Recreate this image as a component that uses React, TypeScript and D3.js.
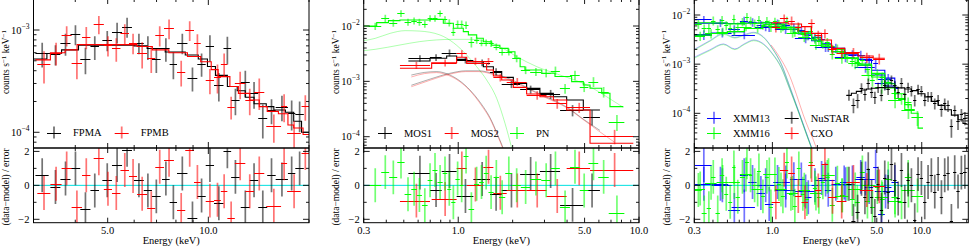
import React from "react";
import * as d3 from "d3";

type Bin = [number, number, number, number]; // lo, hi, value, error
type XY = [number, number];

// ---------------- Panel 1 : NuSTAR FPMA / FPMB ----------------
const p1XTicks = [5, 10];
const p1YExps = [-3, -4];

const fpmaData: Bin[] = [
  [3.04, 3.33, 5.9e-4, 1.6e-4], [3.37, 3.61, 5.8e-4, 1.3e-4], [3.61, 3.87, 7.4e-4, 1.8e-4],
  [3.87, 4.14, 9.1e-4, 2.0e-4], [4.14, 4.44, 5.2e-4, 1.5e-4], [4.44, 4.71, 6.9e-4, 1.8e-4],
  [4.82, 5.15, 8.0e-4, 1.8e-4], [5.15, 5.52, 9.6e-4, 2.2e-4], [5.52, 5.91, 1.08e-3, 2.4e-4],
  [5.99, 6.41, 7.5e-4, 1.7e-4], [6.41, 6.78, 6.9e-4, 1.8e-4], [6.78, 7.2, 5.2e-4, 1.4e-4],
  [7.27, 7.66, 6.6e-4, 1.7e-4], [7.66, 8.06, 4.7e-4, 1.4e-4], [8.06, 8.66, 7.5e-4, 1.7e-4],
  [8.66, 9.27, 3.4e-4, 0.9e-4], [9.27, 9.82, 4.7e-4, 1.2e-4], [9.82, 10.4, 6.9e-4, 2.0e-4],
  [10.4, 11.1, 2.9e-4, 0.9e-4], [11.1, 11.7, 6.6e-4, 2.0e-4], [11.7, 12.4, 2.07e-4, 0.6e-4],
  [12.5, 13.3, 3.1e-4, 0.9e-4], [13.3, 14.1, 2.4e-4, 0.7e-4], [14.1, 15.0, 1.37e-4, 0.5e-4],
  [15.0, 15.9, 1.65e-4, 0.45e-4], [15.9, 17.3, 1.78e-4, 0.5e-4], [17.3, 18.2, 1.54e-4, 0.5e-4],
  [18.2, 19.3, 1.5e-4, 0.5e-4],
];
const fpmaRes = [0.6, -0.1, 0.4, 1.0, -1.4, -0.3, 0.3, 1.2, 2.1, 0.3, -0.3, -0.65, 0.4, -1.0, 0.7, -1.95, -0.6, 1.2, -1.05, 2.0, 0.5, -1.3, 0.3, -1.3, 0.6, 0.35, 0.7, 1.0];
const fpmaModelE = [3.0, 3.29, 3.64, 4.09, 5.99, 6.56, 7.43, 8.53, 9.33, 9.94, 10.5, 11.4, 12.2, 12.9, 13.7, 14.9, 15.7, 17.0, 18.0, 19.0, 20.0];
const fpmaModelV = [5.2e-4, 5.9e-4, 6.4e-4, 7.1e-4, 7.0e-4, 6.6e-4, 6.1e-4, 5.7e-4, 5.2e-4, 4.4e-4, 3.6e-4, 2.8e-4, 2.55e-4, 2.2e-4, 1.9e-4, 1.78e-4, 1.65e-4, 1.57e-4, 1.28e-4, 1.0e-4];

const fpmbData: Bin[] = [
  [3.08, 3.37, 4.6e-4, 1.6e-4], [3.37, 3.64, 6.0e-4, 1.5e-4], [3.64, 3.9, 8.9e-4, 2.0e-4],
  [3.9, 4.19, 4.8e-4, 1.5e-4], [4.19, 4.44, 8.6e-4, 2.1e-4], [4.54, 4.87, 1.14e-3, 2.3e-4],
  [4.87, 5.15, 7.1e-4, 1.6e-4], [5.15, 5.46, 6.6e-4, 1.7e-4], [5.46, 5.79, 9.3e-4, 2.1e-4],
  [5.79, 6.12, 7.5e-4, 1.7e-4], [6.12, 6.56, 5.9e-4, 1.7e-4], [6.56, 6.94, 5.3e-4, 1.5e-4],
  [6.94, 7.37, 8.9e-4, 2.0e-4], [7.37, 7.89, 1.04e-3, 2.3e-4], [8.06, 8.53, 3.9e-4, 1.1e-4],
  [8.53, 9.06, 1.0e-3, 2.2e-4], [9.06, 9.49, 7.4e-4, 1.7e-4], [9.82, 10.4, 3.25e-4, 0.9e-4],
  [10.4, 10.9, 3.5e-4, 1.1e-4], [10.9, 11.4, 4.7e-4, 1.2e-4], [11.4, 12.0, 1.78e-4, 0.45e-4],
  [12.0, 12.9, 3.0e-4, 0.9e-4], [12.9, 13.7, 2.07e-4, 0.6e-4], [13.7, 14.7, 2.5e-4, 0.85e-4],
  [14.9, 16.5, 1.14e-4, 0.35e-4], [16.5, 17.2, 1.8e-4, 0.55e-4], [17.2, 18.9, 9.8e-5, 0.3e-4],
  [19.0, 20.0, 1.8e-4, 0.5e-4],
];
const fpmbRes = [-0.45, 0.1, 1.0, -1.3, 0.6, 1.6, -0.2, -0.45, 0.9, 0.55, -0.5, -1.35, 1.1, 1.5, -1.45, 2.1, 0.2, -0.9, -0.85, -0.35, -1.95, 1.3, -0.35, 0.7, -1.2, 1.3, -0.35, 1.9];
const fpmbModelE = [3.04, 3.37, 3.73, 4.05, 6.12, 6.8, 7.62, 8.66, 9.49, 10.2, 10.7, 11.6, 12.3, 13.3, 14.2, 15.0, 16.2, 17.3, 18.0, 19.2, 20.0];
const fpmbModelV = [5.1e-4, 6.0e-4, 6.4e-4, 7.2e-4, 6.9e-4, 6.4e-4, 6.0e-4, 5.5e-4, 4.9e-4, 4.1e-4, 3.5e-4, 2.8e-4, 2.4e-4, 2.07e-4, 1.78e-4, 1.6e-4, 1.52e-4, 1.18e-4, 1.1e-4, 9.5e-5];

// ---------------- Panel 2 : XMM MOS1 / MOS2 / PN ----------------
const p2XTicks = [0.3, 1, 5, 10];
const p2YExps = [-2, -3, -4];

const mos1Data: Bin[] = [
  [0.53, 0.698, 2.61e-3, 3.5e-4], [0.698, 0.81, 2.72e-3, 3.8e-4], [0.81, 0.98, 3.3e-3, 4.5e-4],
  [0.98, 1.213, 2.43e-3, 3.2e-4], [1.213, 1.5, 2.17e-3, 3.0e-4], [1.5, 1.74, 1.5e-3, 2.3e-4],
  [1.74, 2.2, 8.95e-4, 1.4e-4], [2.2, 2.83, 7.17e-4, 1.2e-4], [2.83, 3.66, 5.9e-4, 1.1e-4],
  [3.66, 4.92, 3.03e-4, 7e-5], [4.92, 6.08, 2.3e-4, 7e-5],
];
const mos1Res = [0.75, -0.27, 0.85, -0.63, 0.37, -0.5, -0.3, 0.67, 0.85, -1.15, -0.3];
const mos1ModelE = [0.53, 0.698, 0.863, 0.98, 1.114, 1.377, 1.565, 1.74, 2.018, 2.39, 2.83, 3.36, 3.98, 4.92, 6.08];
const mos1ModelV = [2.33e-3, 2.61e-3, 2.87e-3, 2.5e-3, 2.27e-3, 1.84e-3, 1.5e-3, 1.18e-3, 9.2e-4, 7.47e-4, 6.06e-4, 5.28e-4, 4.6e-4, 3.03e-4];

const mos2Data: Bin[] = [
  [0.476, 0.698, 1.97e-3, 3.0e-4], [0.713, 0.98, 2.17e-3, 3.2e-4], [0.98, 1.114, 3.2e-3, 4.5e-4],
  [1.114, 1.377, 2.33e-3, 3.3e-4], [1.377, 1.565, 2.3e-3, 3.3e-4], [1.565, 1.854, 1.18e-3, 1.9e-4],
  [1.854, 2.39, 9.9e-4, 1.6e-4], [2.39, 3.08, 5.66e-4, 1.0e-4], [3.08, 3.98, 4.0e-4, 8e-5],
  [3.98, 5.36, 3.39e-4, 7e-5], [5.36, 9.3, 1.03e-4, 3e-5],
];
const mos2Res = [-0.9, -0.8, 1.0, 0.05, 1.1, -0.43, -0.3, -0.3, -0.63, 1.0, 0.9];
const mos2ModelE = [0.476, 0.713, 0.98, 1.114, 1.436, 1.565, 1.74, 2.018, 2.39, 2.83, 3.36, 3.98, 5.36, 9.3];
const mos2ModelV = [1.72e-3, 2.17e-3, 2.72e-3, 2.11e-3, 1.6e-3, 1.25e-3, 1.06e-3, 7.8e-4, 5.9e-4, 5.28e-4, 4.6e-4, 3.03e-4, 7.6e-5];

const pnData: Bin[] = [
  [0.32, 0.375, 1.0e-2, 1.5e-3], [0.375, 0.415, 1.38e-2, 2.2e-3], [0.415, 0.46, 1.15e-2, 1.8e-3],
  [0.46, 0.505, 1.69e-2, 2.3e-3], [0.505, 0.55, 1.18e-2, 1.7e-3], [0.55, 0.59, 1.25e-2, 1.8e-3],
  [0.59, 0.63, 1.18e-2, 1.7e-3], [0.63, 0.677, 1.09e-2, 1.6e-3], [0.677, 0.72, 1.38e-2, 1.9e-3],
  [0.72, 0.768, 1.38e-2, 1.9e-3], [0.768, 0.82, 1.69e-2, 2.2e-3], [0.82, 0.87, 1.32e-2, 1.8e-3],
  [0.87, 0.915, 1.15e-2, 1.7e-3], [0.915, 0.965, 7.9e-3, 1.3e-3], [0.965, 1.02, 1.09e-2, 1.7e-3],
  [1.02, 1.07, 1.09e-2, 1.7e-3], [1.07, 1.14, 1.04e-2, 1.6e-3], [1.14, 1.225, 5.2e-3, 1.1e-3],
  [1.225, 1.305, 5.6e-3, 8e-4], [1.305, 1.385, 5.0e-3, 7e-4], [1.385, 1.47, 5.0e-3, 7e-4],
  [1.47, 1.57, 4.86e-3, 7e-4], [1.57, 1.68, 4.23e-3, 6e-4], [1.68, 1.82, 3.43e-3, 5e-4],
  [1.82, 1.99, 3.43e-3, 5e-4], [1.99, 2.22, 2.61e-3, 4e-4], [2.22, 2.5, 1.6e-3, 2.5e-4],
  [2.5, 2.88, 1.5e-3, 2.5e-4], [2.88, 3.25, 1.43e-3, 2.5e-4], [3.25, 3.65, 1.57e-3, 2.8e-4],
  [3.65, 4.15, 7.5e-4, 1.5e-4], [4.15, 4.7, 1.3e-3, 2.5e-4], [4.7, 5.25, 8.0e-4, 1.6e-4],
  [5.25, 5.95, 9.9e-4, 2.0e-4], [5.95, 6.8, 6.5e-4, 1.4e-4], [6.8, 8.3, 1.87e-4, 6e-5],
];
const pnRes = [0.0, 0.78, 0.47, 1.4, -0.53, -0.2, -0.57, -1.17, 0.3, 0.9, 0.2, 0.7, -0.2, -1.0, 0.4, 0.0, 1.7, -1.4, 0.1, 0.2, 0.75, -0.4, 0.5, -0.7, 0.7, 0.0, -0.1, 0.4, 0.3, 1.0, -1.3, 1.1, -0.3, 1.3, 0.5, -1.6];
const pnModelE = [0.3, 0.354, 0.411, 0.476, 0.698, 0.827, 0.94, 1.067, 1.138, 1.265, 1.377, 1.532, 1.7, 1.89, 2.06, 2.2, 2.34, 2.9, 3.43, 4.24, 4.92, 5.36, 6.22, 6.91, 8.19];
const pnModelV = [1.0e-2, 1.15e-2, 1.25e-2, 1.28e-2, 1.32e-2, 1.12e-2, 9.1e-3, 7.9e-3, 6.9e-3, 6.0e-3, 5.2e-3, 4.5e-3, 3.95e-3, 3.43e-3, 2.61e-3, 1.84e-3, 1.6e-3, 1.4e-3, 1.22e-3, 9.9e-4, 8.6e-4, 7.5e-4, 6.1e-4, 3.5e-4];

const pnTherm: XY[] = [[0.3, 5.43e-3], [0.347, 5.98e-3], [0.42, 7.37e-3], [0.508, 8.24e-3], [0.609, 8.1e-3], [0.793, 6.88e-3], [0.94, 5.0e-3], [1.114, 2.99e-3], [1.265, 1.84e-3], [1.436, 1.06e-3], [1.632, 4.93e-4], [1.815, 1.74e-4], [1.977, 6.2e-5]];
const pnPow: XY[] = [[0.3, 3.58e-3], [0.347, 3.79e-3], [0.476, 4.54e-3], [0.609, 5.21e-3], [0.94, 5.74e-3], [1.162, 5.74e-3], [1.436, 5.28e-3], [1.7, 4.23e-3], [2.11, 2.79e-3], [2.72, 1.84e-3], [3.66, 1.3e-3], [5.14, 8.6e-4], [6.62, 5.28e-4], [8.19, 3.39e-4]];
const mos1Therm: XY[] = [[0.55, 1.3e-3], [0.65, 1.45e-3], [0.76, 1.5e-3], [0.9, 1.3e-3], [1.05, 9.5e-4], [1.2, 6.2e-4], [1.35, 3.8e-4], [1.5, 2.2e-4], [1.65, 1.1e-4], [1.8, 5.5e-5]];
const mos2Therm: XY[] = [[0.55, 1.2e-3], [0.65, 1.38e-3], [0.76, 1.44e-3], [0.9, 1.25e-3], [1.05, 9.2e-4], [1.2, 6.0e-4], [1.35, 3.6e-4], [1.5, 2.1e-4], [1.65, 1.05e-4], [1.8, 5.2e-5]];
const mos1Pow: XY[] = [[0.55, 8.5e-4], [0.7, 1.1e-3], [0.9, 1.4e-3], [1.1, 1.55e-3], [1.3, 1.55e-3], [1.6, 1.35e-3], [2.0, 1.05e-3], [2.5, 7.2e-4], [3.0, 5.4e-4], [4.0, 3.4e-4], [5.0, 2.0e-4], [6.08, 1.3e-4]];
const mos2Pow: XY[] = [[0.55, 8.0e-4], [0.7, 1.05e-3], [0.9, 1.35e-3], [1.1, 1.5e-3], [1.3, 1.5e-3], [1.6, 1.3e-3], [2.0, 1.0e-3], [2.5, 7.0e-4], [3.0, 5.2e-4], [4.0, 3.3e-4], [5.0, 1.95e-4], [6.0, 1.26e-4], [7.3, 8.0e-5]];

// ---------------- Panel 3 : XMM13 / XMM16 / NuSTAR / CXO ----------------
const p3XTicks = [0.3, 1, 5, 10];
const p3YExps = [-2, -3, -4];

const x13pnData: Bin[] = [
  [0.303, 0.392, 8.2e-3, 1.4e-3], [0.392, 0.506, 7.0e-3, 1.3e-3], [0.506, 0.606, 5.1e-3, 1.1e-3],
  [0.606, 0.689, 7.7e-3, 1.5e-3], [0.689, 0.784, 7.2e-3, 1.4e-3], [0.784, 0.891, 6.35e-3, 1.2e-3],
  [0.891, 1.013, 5.6e-3, 1.1e-3], [1.013, 1.152, 6.77e-3, 1.3e-3], [1.152, 1.31, 6.2e-3, 1.2e-3],
  [1.31, 1.474, 5.6e-3, 1.1e-3], [1.474, 1.65, 4.95e-3, 1.0e-3], [1.65, 1.828, 3.85e-3, 8e-4],
  [1.828, 2.026, 3.5e-3, 7e-4], [2.026, 2.245, 3.2e-3, 7e-4], [2.245, 2.487, 2.27e-3, 5e-4],
  [2.487, 2.83, 2.14e-3, 4.5e-4], [2.83, 3.22, 1.77e-3, 4e-4], [3.22, 3.65, 1.56e-3, 3.5e-4],
  [3.65, 4.16, 1.52e-3, 3.5e-4], [4.16, 4.73, 1.22e-3, 3e-4], [4.73, 5.1, 1.04e-3, 2.6e-4],
  [5.1, 5.66, 5.1e-4, 1.4e-4], [5.66, 6.27, 4.9e-4, 1.4e-4], [6.27, 6.95, 3.4e-4, 1e-4],
];
const x13pnRes = [1.2, 0.1, -1.45, 0.6, 0.2, -0.45, -1.1, 0.2, 0.17, 0.36, 0.35, -0.7, 0.0, 0.43, -0.26, 0.1, 0.17, 0.17, 0.5, -0.1, 1.1, -1.7, -0.07, 0.2];
const x13pnModelE = [0.3, 0.39, 0.5, 0.65, 0.85, 0.99, 1.21, 1.49, 1.83, 2.13, 2.49, 3.05, 3.75, 4.61, 5.66, 6.6, 6.95];
const x13pnModelV = [6.8e-3, 6.9e-3, 6.7e-3, 6.9e-3, 7.0e-3, 6.5e-3, 5.6e-3, 4.6e-3, 3.5e-3, 2.6e-3, 2.1e-3, 1.6e-3, 1.25e-3, 7.5e-4, 5.2e-4, 3.2e-4];

const x13mosData: Bin[] = [
  [0.303, 0.392, 4.0e-3, 9e-4], [0.392, 0.533, 4.4e-3, 9e-4], [0.533, 0.764, 4.0e-3, 8e-4],
  [0.764, 1.039, 5.8e-3, 1.1e-3], [1.039, 1.414, 5.1e-3, 1.0e-3], [1.414, 1.924, 3.35e-3, 7e-4],
  [1.924, 2.618, 2.27e-3, 5e-4], [2.618, 3.56, 1.42e-3, 3.2e-4], [3.56, 4.85, 8.9e-4, 2.2e-4],
  [4.85, 6.6, 4.1e-4, 1.1e-4],
];
const x13mosRes = [0.1, 0.0, -1.25, 0.0, -0.3, -0.36, 0.34, 0.06, 0.4, -0.36];
const x13mosModelE = [0.3, 0.39, 0.5, 0.65, 0.85, 0.99, 1.21, 1.49, 1.83, 2.13, 2.49, 3.05, 3.75, 4.61, 5.66, 6.6];
const x13mosModelV = [4.0e-3, 4.3e-3, 4.6e-3, 5.3e-3, 5.8e-3, 5.8e-3, 5.1e-3, 4.1e-3, 3.0e-3, 2.3e-3, 1.8e-3, 1.3e-3, 9.5e-4, 6.0e-4, 3.6e-4];

const x16pnData: Bin[] = [
  [0.303, 0.336, 6.6e-3, 1.4e-3], [0.336, 0.363, 5.4e-3, 1.0e-3], [0.363, 0.388, 5.36e-3, 1.2e-3],
  [0.388, 0.416, 7.7e-3, 1.6e-3], [0.416, 0.445, 5.1e-3, 1.1e-3], [0.445, 0.476, 7.9e-3, 1.6e-3],
  [0.476, 0.506, 6.2e-3, 1.3e-3], [0.506, 0.538, 5.45e-3, 1.2e-3], [0.538, 0.567, 8.4e-3, 1.7e-3],
  [0.567, 0.606, 5.8e-3, 1.2e-3], [0.606, 0.655, 7.3e-3, 1.4e-3], [0.655, 0.696, 9.25e-3, 1.8e-3],
  [0.696, 0.733, 7.7e-3, 1.5e-3], [0.733, 0.788, 6.8e-3, 1.3e-3], [0.788, 0.837, 8.1e-3, 1.5e-3],
  [0.837, 0.891, 6.2e-3, 1.2e-3], [0.891, 0.947, 7.7e-3, 1.4e-3], [0.947, 1.008, 5.6e-3, 1.1e-3],
  [1.008, 1.072, 7.4e-3, 1.4e-3], [1.072, 1.14, 6.6e-3, 1.3e-3], [1.14, 1.212, 5.8e-3, 1.1e-3],
  [1.212, 1.29, 7.7e-3, 1.5e-3], [1.29, 1.37, 5.1e-3, 1.0e-3], [1.37, 1.457, 4.5e-3, 9e-4],
  [1.457, 1.55, 5.6e-3, 1.1e-3], [1.55, 1.65, 4.1e-3, 8e-4], [1.65, 1.754, 3.85e-3, 8e-4],
  [1.754, 1.866, 4.65e-3, 9e-4], [1.866, 1.985, 3.3e-3, 7e-4], [1.985, 2.11, 3.0e-3, 6e-4],
  [2.11, 2.245, 2.6e-3, 5.5e-4], [2.245, 2.42, 2.8e-3, 6e-4], [2.42, 2.618, 1.6e-3, 3.5e-4],
  [2.618, 2.83, 2.07e-3, 4.5e-4], [2.83, 3.05, 1.77e-3, 4e-4], [3.05, 3.3, 1.38e-3, 3.2e-4],
  [3.3, 3.56, 1.15e-3, 2.5e-4], [3.56, 3.85, 1.1e-3, 2.6e-4], [3.85, 4.16, 1.22e-3, 2.9e-4],
  [4.16, 4.5, 8.1e-4, 2.0e-4], [4.5, 4.85, 4.77e-4, 1.3e-4], [4.85, 5.23, 6.3e-4, 1.6e-4],
  [5.23, 5.66, 5.4e-4, 1.4e-4], [5.66, 6.27, 4.3e-4, 8e-5], [6.27, 6.95, 2.6e-4, 6e-5],
  [6.95, 7.7, 2.0e-4, 5e-5], [7.7, 8.53, 1.7e-4, 4e-5], [8.53, 10.2, 8.3e-5, 2.8e-5],
];
const x16pnRes = [-0.27, -1.6, -1.35, 0.5, -1.6, 0.6, -0.5, -0.96, 1.06, -0.67, 0.5, 1.36, 0.6, 0.0, 0.87, -0.65, 0.5, -1.25, 0.64, 0.08, -0.64, 1.4, -0.5, -1.2, 1.0, -0.5, -0.8, 1.4, -0.14, -0.67, 0.18, 0.5, -1.14, 0.16, -0.58, 0.1, -0.8, -0.96, 0.76, -0.95, -1.3, -0.1, -0.8, 0.4, -0.7, -1.0, 0.5, -0.6];
const x16pnModelE = [0.3, 0.39, 0.5, 0.65, 0.85, 0.99, 1.21, 1.49, 1.83, 2.13, 2.49, 3.05, 3.75, 4.61, 5.66, 6.6, 7.7, 8.5, 9.45, 10.2];
const x16pnModelV = [6.98e-3, 6.9e-3, 6.6e-3, 6.8e-3, 6.98e-3, 6.5e-3, 5.6e-3, 4.5e-3, 3.4e-3, 2.5e-3, 2.0e-3, 1.35e-3, 1.0e-3, 6.5e-4, 4.0e-4, 2.5e-4, 1.5e-4, 1.0e-4, 5.0e-5];

const x16mosData: Bin[] = [
  [0.303, 0.354, 3.75e-3, 8e-4], [0.354, 0.423, 4.24e-3, 9e-4], [0.423, 0.506, 4.58e-3, 9e-4],
  [0.506, 0.606, 4.8e-3, 1.0e-3], [0.606, 0.725, 5.8e-3, 1.1e-3], [0.725, 0.868, 5.36e-3, 1.0e-3],
  [0.868, 1.039, 6.6e-3, 1.1e-3], [1.039, 1.244, 5.36e-3, 1.0e-3], [1.244, 1.489, 4.24e-3, 8e-4],
  [1.489, 1.782, 3.52e-3, 7e-4], [1.782, 2.132, 2.46e-3, 5e-4], [2.132, 2.618, 2.3e-3, 4e-4],
  [2.618, 3.22, 1.32e-3, 3e-4], [3.22, 3.95, 1.04e-3, 2.5e-4], [3.95, 4.85, 6.0e-4, 1.5e-4],
  [4.85, 5.95, 3.5e-4, 1e-4], [5.95, 7.31, 1.87e-4, 6e-5], [7.31, 8.98, 1.17e-4, 4e-5],
];
const x16mosRes = [-0.19, 0.15, 0.2, 0.2, 0.64, -0.24, 0.64, -0.24, -0.45, -0.26, -0.48, 0.6, -0.6, -0.24, 0.0, -0.7, -0.9, -0.3];
const x16mosModelE = [0.3, 0.39, 0.5, 0.65, 0.85, 0.99, 1.21, 1.49, 1.83, 2.13, 2.49, 3.05, 3.75, 4.61, 5.66, 6.6, 7.7, 8.98];
const x16mosModelV = [3.9e-3, 4.2e-3, 4.6e-3, 5.3e-3, 5.9e-3, 5.9e-3, 5.2e-3, 4.2e-3, 3.1e-3, 2.3e-3, 1.8e-3, 1.3e-3, 9.5e-4, 5.5e-4, 3.3e-4, 2.0e-4, 1.2e-4];

const nuData: Bin[] = [
  [3.13, 3.38, 2.4e-4, 6e-5], [3.38, 3.6, 1.5e-4, 5e-5], [3.6, 3.84, 1.87e-4, 6e-5],
  [3.84, 4.06, 3.3e-4, 8e-5], [4.06, 4.27, 2.5e-4, 7e-5], [4.27, 4.5, 4.08e-4, 1.0e-4],
  [4.5, 4.73, 2.75e-4, 7e-5], [4.73, 4.98, 2.15e-4, 6e-5], [4.98, 5.23, 3.4e-4, 8e-5],
  [5.23, 5.51, 2.4e-4, 6.5e-5], [5.51, 5.8, 3.8e-4, 9e-5], [5.8, 6.11, 3.1e-4, 7.5e-5],
  [6.11, 6.43, 4.77e-4, 1.1e-4], [6.43, 6.78, 3.7e-4, 9e-5], [6.78, 7.13, 2.75e-4, 7e-5],
  [7.13, 7.5, 4.2e-4, 1.0e-4], [7.5, 7.9, 2.5e-4, 6.5e-5], [7.9, 8.31, 3.4e-4, 8e-5],
  [8.31, 8.75, 2.9e-4, 7e-5], [8.75, 9.2, 1.87e-4, 5e-5], [9.2, 9.7, 3.1e-4, 7e-5],
  [9.7, 10.2, 2.9e-4, 7e-5], [10.2, 10.75, 1.9e-4, 5e-5], [10.75, 11.3, 2.2e-4, 5e-5],
  [11.3, 11.9, 2.2e-4, 5e-5], [11.9, 12.55, 1.6e-4, 4e-5], [12.55, 13.2, 1.9e-4, 4.5e-5],
  [13.2, 13.9, 1.2e-4, 3.5e-5], [13.9, 14.6, 1.6e-4, 4e-5], [14.6, 15.4, 1.45e-4, 3.8e-5],
  [15.4, 16.2, 5.4e-5, 2.2e-5], [16.2, 17.05, 1.15e-4, 3e-5], [17.05, 17.95, 7.1e-5, 2.5e-5],
  [17.95, 18.9, 9.5e-5, 2.8e-5], [18.9, 20.0, 8.2e-5, 2.5e-5],
];
const nuRes = [0.1, -2.1, -1.55, 0.39, -0.7, 0.95, -0.69, -1.8, 0.09, -1.43, 0.46, -0.39, 1.25, 0.34, -0.77, 0.91, -0.97, 0.34, 0.0, -2.06, 0.66, 0.43, -1.0, 0.2, 0.6, -0.37, 0.67, -0.7, 0.6, 0.7, -2.1, 0.77, -0.36, 0.75, 0.8];
const nuModelE = [3.13, 3.38, 3.65, 3.95, 4.27, 4.61, 5.1, 5.66, 6.27, 6.95, 7.7, 8.53, 9.45, 10.5, 11.6, 12.9, 14.3, 15.8, 17.5, 18.9, 20.0];
const nuModelV = [2.33e-4, 2.56e-4, 2.8e-4, 2.99e-4, 3.13e-4, 3.23e-4, 3.33e-4, 3.39e-4, 3.39e-4, 3.29e-4, 3.13e-4, 2.9e-4, 2.5e-4, 2.15e-4, 1.75e-4, 1.45e-4, 1.18e-4, 9.2e-5, 7.4e-5, 6.2e-5];

const cxoData: Bin[] = [
  [0.987, 1.123, 5.7e-3, 1.3e-3], [1.123, 1.276, 8.55e-3, 1.7e-3], [1.276, 1.414, 7.7e-3, 1.6e-3],
  [1.414, 1.567, 5.8e-3, 1.2e-3], [1.567, 1.736, 4.8e-3, 1.0e-3], [1.736, 1.924, 6.77e-3, 1.4e-3],
  [1.924, 2.132, 4.0e-3, 8e-4], [2.132, 2.363, 4.24e-3, 9e-4], [2.363, 2.69, 2.0e-3, 4.5e-4],
  [2.69, 3.13, 1.72e-3, 4e-4], [3.13, 3.85, 1.74e-3, 3.8e-4], [3.85, 4.73, 1.38e-3, 3.3e-4],
  [4.73, 5.66, 1.3e-3, 3.2e-4],
];
const cxoRes = [-1.0, 0.92, 0.7, -0.63, -1.0, 1.2, -0.3, 1.27, -0.67, -0.95, 0.2, -0.27, -0.06];
const cxoModelE = [0.987, 1.276, 1.567, 1.828, 2.132, 2.487, 3.05, 3.75, 4.73, 5.66];
const cxoModelV = [6.98e-3, 6.56e-3, 5.8e-3, 4.24e-3, 3.1e-3, 2.1e-3, 1.66e-3, 1.47e-3, 1.32e-3];

const x13ThermA: XY[] = [[0.3, 2.0e-3], [0.38, 3.0e-3], [0.47, 4.2e-3], [0.56, 3.5e-3], [0.65, 4.0e-3], [0.75, 4.45e-3], [0.87, 3.6e-3], [1.0, 2.1e-3], [1.15, 1.0e-3], [1.3, 3.7e-4], [1.5, 1.1e-4], [1.7, 3.8e-5], [1.88, 1.6e-5]];
const x16ThermA: XY[] = [[0.3, 1.92e-3], [0.38, 2.9e-3], [0.47, 4.05e-3], [0.56, 3.4e-3], [0.65, 3.85e-3], [0.75, 4.3e-3], [0.87, 3.5e-3], [1.0, 2.05e-3], [1.15, 9.7e-4], [1.3, 3.6e-4], [1.5, 1.07e-4], [1.7, 3.7e-5], [1.88, 1.55e-5]];
const x13ThermB: XY[] = [[0.3, 1.38e-3], [0.38, 1.95e-3], [0.47, 2.58e-3], [0.56, 2.04e-3], [0.65, 2.6e-3], [0.75, 3.1e-3], [0.87, 2.6e-3], [1.0, 1.65e-3], [1.15, 8.5e-4], [1.3, 3.3e-4], [1.5, 1.05e-4], [1.7, 3.6e-5], [1.88, 1.6e-5]];
const x16ThermB: XY[] = [[0.3, 1.32e-3], [0.38, 1.88e-3], [0.47, 2.5e-3], [0.56, 1.98e-3], [0.65, 2.52e-3], [0.75, 3.0e-3], [0.87, 2.52e-3], [1.0, 1.6e-3], [1.15, 8.2e-4], [1.3, 3.2e-4], [1.5, 1.02e-4], [1.7, 3.5e-5], [1.88, 1.55e-5]];
const cxoTherm: XY[] = [[0.98, 2.46e-3], [1.1, 1.5e-3], [1.31, 5.6e-4], [1.45, 2.4e-4], [1.61, 9.3e-5], [1.75, 4.8e-5], [1.88, 2.9e-5], [1.97, 1.95e-5]];

const resTicks = [-2, 0, 2];

// ---------------- drawing ----------------
const FONT = "'Liberation Serif','Times New Roman',Times,serif";
const BLACK = "#000000";
const RED = "#ff0000";
const GREEN = "#00ff00";
const BLUE = "#0000ff";
const CYAN = "#00e0e0";
const TOP = 0;
const FRAME_TOP = -1;
const MID = 148;
const BOT = 222.7;

interface Series { color: string; data: Bin[]; res: number[]; modelE: number[]; modelV: number[] }
interface Comp { color: string; pts: XY[] }
interface Leg { color: string; label: string; x: number; y: number }

function LegendCross({ x, y, color }: { x: number; y: number; color: string }) {
  return (
    <g>
      <line x1={x} x2={x} y1={y - 6} y2={y + 6} stroke={color} strokeWidth={1.8} strokeOpacity={0.55} />
      <line x1={x - 7} x2={x + 7} y1={Math.round(y) + 0.5} y2={Math.round(y) + 0.5} stroke={color} strokeWidth={1} />
    </g>
  );
}

function Panel(props: {
  id: string; left: number; right: number; xDomain: [number, number]; yDomain: [number, number];
  xTicks: number[]; yExps: number[]; series: Series[]; comps: Comp[]; legend: Leg[];
}) {
  const { id, left, right, xDomain, yDomain, xTicks, yExps, series, comps, legend } = props;
  const xs = d3.scaleLog().domain(xDomain).range([left, right]);
  const ys = d3.scaleLog().domain(yDomain).range([MID, TOP]);
  const rs = d3.scaleLinear().domain([-2.2, 2.2]).range([BOT, MID]);
  const w = right - left;
  const isDecade = (t: number) => Math.abs(Math.log10(t) - Math.round(Math.log10(t))) < 1e-6;
  const isLabeled = (t: number) => xTicks.some((l) => Math.abs(l - t) < 1e-6);
  const xt = xs.ticks();
  const yt = ys.ticks();
  const stepLine = d3.line<XY>().x((d) => xs(d[0])).y((d) => ys(d[1])).curve(d3.curveStepAfter);
  const compLine = d3.line<XY>().x((d) => xs(d[0])).y((d) => ys(d[1])).curve(d3.curveMonotoneX);
  const yOf = (v: number) => (v > 0 ? ys(v) : MID + 60);
  const snap = (y: number) => Math.round(y) + 0.5;
  const resY = [-1, 1, -2, 0, 2];

  const modelPts = (s: Series): XY[] => {
    const pts: XY[] = s.modelV.map((v, i) => [s.modelE[i], v] as XY);
    pts.push([s.modelE[s.modelE.length - 1], s.modelV[s.modelV.length - 1]]);
    return pts;
  };

  const xTickMarks = (y: number, dir: number) =>
    xt.map((t, i) => {
      const len = isDecade(t) ? 6 : isLabeled(t) ? 5 : 3;
      const x = xs(t);
      return <line key={`xt${y}${dir}${i}`} x1={x} x2={x} y1={y} y2={y + dir * len} stroke="#000" strokeWidth={0.9} />;
    });

  return (
    <g>
      <defs>
        <clipPath id={id + "t"}><rect x={left} y={FRAME_TOP} width={w} height={MID - FRAME_TOP} /></clipPath>
        <clipPath id={id + "r"}><rect x={left} y={MID} width={w} height={BOT - MID} /></clipPath>
      </defs>

      {/* spectra */}
      <g clipPath={`url(#${id}t)`}>
        {comps.map((c, i) => (
          <path key={"c" + i} d={compLine(c.pts) || ""} fill="none" stroke={c.color} strokeWidth={0.8} strokeOpacity={0.4} />
        ))}
        {series.map((s, si) => (
          <g key={"s" + si}>
            {s.data.map((b, i) => {
              const xc = xs((b[0] + b[1]) / 2);
              return (
                <g key={i}>
                  <line x1={xc} x2={xc} y1={yOf(b[2] + b[3])} y2={yOf(b[2] - b[3])} stroke={s.color} strokeWidth={1.7} strokeOpacity={0.55} />
                  <line x1={xs(b[0])} x2={xs(b[1])} y1={snap(ys(b[2]))} y2={snap(ys(b[2]))} stroke={s.color} strokeWidth={1} />
                </g>
              );
            })}
            <path d={stepLine(modelPts(s)) || ""} fill="none" stroke={s.color} strokeWidth={1.1} />
          </g>
        ))}
      </g>

      {/* residuals */}
      <g clipPath={`url(#${id}r)`}>
        <line x1={left} x2={right} y1={rs(0)} y2={rs(0)} stroke={CYAN} strokeWidth={1} />
        {series.map((s, si) => (
          <g key={"r" + si}>
            {s.data.map((b, i) => {
              const r = s.res[i];
              const xc = xs((b[0] + b[1]) / 2);
              return (
                <g key={i}>
                  <line x1={xc} x2={xc} y1={rs(r + 1)} y2={rs(r - 1)} stroke={s.color} strokeWidth={1.7} strokeOpacity={0.55} />
                  <line x1={xs(b[0])} x2={xs(b[1])} y1={snap(rs(r))} y2={snap(rs(r))} stroke={s.color} strokeWidth={1} />
                </g>
              );
            })}
          </g>
        ))}
      </g>

      {/* frames */}
      <rect x={left} y={FRAME_TOP} width={w} height={BOT - FRAME_TOP} fill="none" stroke="#000" strokeWidth={1} />
      <line x1={left} x2={right} y1={MID} y2={MID} stroke="#000" strokeWidth={1.6} />

      {/* x ticks */}
      {xTickMarks(FRAME_TOP, 1)}
      {xTickMarks(MID, -1)}
      {xTickMarks(MID, 1)}
      {xTickMarks(BOT, -1)}

      {/* y ticks top panel */}
      {yt.map((t, i) => {
        const len = isDecade(t) ? 6 : 3;
        const y = ys(t);
        return (
          <g key={"yt" + i}>
            <line x1={left} x2={left + len} y1={y} y2={y} stroke="#000" strokeWidth={0.9} />
            <line x1={right} x2={right - len} y1={y} y2={y} stroke="#000" strokeWidth={0.9} />
          </g>
        );
      })}
      {/* y ticks residual panel */}
      {resY.map((t, i) => {
        const len = Math.abs(t) === 1 ? 3 : 6;
        const y = rs(t);
        return (
          <g key={"ry" + i}>
            <line x1={left} x2={left + len} y1={y} y2={y} stroke="#000" strokeWidth={0.9} />
            <line x1={right} x2={right - len} y1={y} y2={y} stroke="#000" strokeWidth={0.9} />
          </g>
        );
      })}

      {/* tick labels */}
      {yExps.map((e) => (
        <text key={"yl" + e} x={left - 4} y={ys(Math.pow(10, e)) + 3.6} textAnchor="end" fontSize={10.5}>
          10<tspan dy={-4.5} fontSize={7.5}>{"\u2212" + Math.abs(e)}</tspan>
        </text>
      ))}
      {resTicks.map((t) => (
        <text key={"rl" + t} x={left - 4} y={rs(t) + 3.6} textAnchor="end" fontSize={10.5}>
          {t < 0 ? "\u2212" + Math.abs(t) : String(t)}
        </text>
      ))}
      {xTicks.map((t) => (
        <text key={"xl" + t} x={xs(t)} y={234} textAnchor="middle" fontSize={10.5}>
          {t.toFixed(1)}
        </text>
      ))}
      <text x={(left + right) / 2} y={244} textAnchor="middle" fontSize={10.5}>Energy (keV)</text>

      {/* axis titles */}
      <text transform={`translate(${left - 24.5},62) rotate(-90)`} textAnchor="middle" fontSize={9.5}>
        counts s<tspan dy={-3.5} fontSize={7}>{"\u22121"}</tspan>
        <tspan dy={3.5}> keV</tspan>
        <tspan dy={-3.5} fontSize={7}>{"\u22121"}</tspan>
      </text>
      <text transform={`translate(${left - 24.5},187) rotate(-90)`} textAnchor="middle" fontSize={9.5}>
        (data{"\u2212"}model) / error
      </text>

      {/* legend */}
      {legend.map((l, i) => (
        <g key={"lg" + i}>
          <LegendCross x={l.x} y={l.y} color={l.color} />
          <text x={l.x + 19} y={l.y + 3.8} fontSize={10.5}>{l.label}</text>
        </g>
      ))}
    </g>
  );
}

export default function App() {
  return (
    <svg
      width={969}
      height={247}
      viewBox="0 0 969 247"
      style={{ position: "absolute", left: 0, top: 0, background: "#fff" }}
      fontFamily={FONT}
    >
      <rect x={0} y={0} width={969} height={247} fill="#fff" />
      <Panel
        id="p1"
        left={33.5}
        right={309}
        xDomain={[3, 20]}
        yDomain={[7.02e-5, 1.965e-3]}
        xTicks={p1XTicks}
        yExps={p1YExps}
        comps={[]}
        series={[
          { color: BLACK, data: fpmaData, res: fpmaRes, modelE: fpmaModelE, modelV: fpmaModelV },
          { color: RED, data: fpmbData, res: fpmbRes, modelE: fpmbModelE, modelV: fpmbModelV },
        ]}
        legend={[
          { color: BLACK, label: "FPMA", x: 54, y: 132.5 },
          { color: RED, label: "FPMB", x: 121.7, y: 132.5 },
        ]}
      />
      <Panel
        id="p2"
        left={363.7}
        right={639}
        xDomain={[0.3, 10]}
        yDomain={[6.25e-5, 2.95e-2]}
        xTicks={p2XTicks}
        yExps={p2YExps}
        comps={[
          { color: GREEN, pts: pnTherm },
          { color: GREEN, pts: pnPow },
          { color: BLACK, pts: mos1Therm },
          { color: RED, pts: mos2Therm },
          { color: BLACK, pts: mos1Pow },
          { color: RED, pts: mos2Pow },
        ]}
        series={[
          { color: BLACK, data: mos1Data, res: mos1Res, modelE: mos1ModelE, modelV: mos1ModelV },
          { color: RED, data: mos2Data, res: mos2Res, modelE: mos2ModelE, modelV: mos2ModelV },
          { color: GREEN, data: pnData, res: pnRes, modelE: pnModelE, modelV: pnModelV },
        ]}
        legend={[
          { color: BLACK, label: "MOS1", x: 385, y: 133 },
          { color: RED, label: "MOS2", x: 451.7, y: 133 },
          { color: GREEN, label: "PN", x: 517, y: 133 },
        ]}
      />
      <Panel
        id="p3"
        left={694.3}
        right={968.3}
        xDomain={[0.3, 20.5]}
        yDomain={[1.97e-5, 2.02e-2]}
        xTicks={p3XTicks}
        yExps={p3YExps}
        comps={[
          { color: BLUE, pts: x13ThermA },
          { color: GREEN, pts: x16ThermA },
          { color: BLUE, pts: x13ThermB },
          { color: GREEN, pts: x16ThermB },
          { color: RED, pts: cxoTherm },
        ]}
        series={[
          { color: BLUE, data: x13mosData, res: x13mosRes, modelE: x13mosModelE, modelV: x13mosModelV },
          { color: BLUE, data: x13pnData, res: x13pnRes, modelE: x13pnModelE, modelV: x13pnModelV },
          { color: GREEN, data: x16mosData, res: x16mosRes, modelE: x16mosModelE, modelV: x16mosModelV },
          { color: GREEN, data: x16pnData, res: x16pnRes, modelE: x16pnModelE, modelV: x16pnModelV },
          { color: BLACK, data: nuData, res: nuRes, modelE: nuModelE, modelV: nuModelV },
          { color: RED, data: cxoData, res: cxoRes, modelE: cxoModelE, modelV: cxoModelV },
        ]}
        legend={[
          { color: BLUE, label: "XMM13", x: 714, y: 117.7 },
          { color: GREEN, label: "XMM16", x: 714, y: 133.3 },
          { color: BLACK, label: "NuSTAR", x: 791.7, y: 117.7 },
          { color: RED, label: "CXO", x: 791.7, y: 133.3 },
        ]}
      />
    </svg>
  );
}
